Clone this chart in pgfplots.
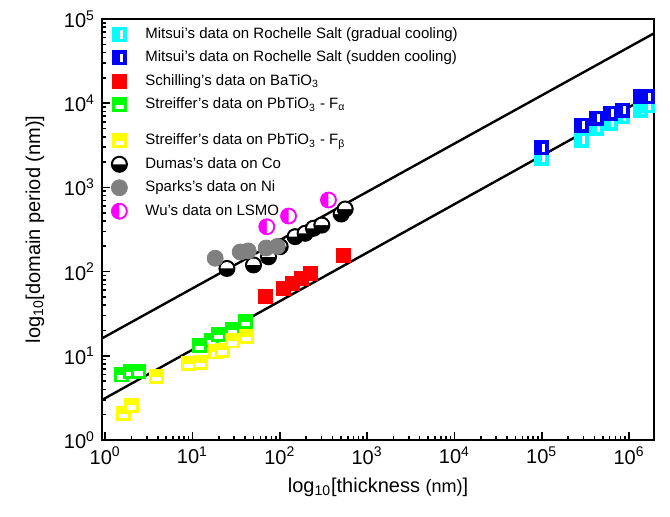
\documentclass[border=0pt]{standalone}
\usepackage{fontspec}
\setmainfont{Liberation Sans}
\usepackage{pgfplots}
\pgfplotsset{compat=1.18}

\definecolor{aqua}{RGB}{0,255,255}
\definecolor{pblue}{RGB}{0,0,255}
\definecolor{pred}{RGB}{255,0,0}
\definecolor{pgreen}{RGB}{0,255,0}
\definecolor{pyellow}{RGB}{255,255,0}
\definecolor{pgrey}{RGB}{128,128,128}
\definecolor{pmag}{RGB}{255,0,255}

% square with a white vertical slot (Mitsui)
\pgfdeclareplotmark{sqvbar}{%
  \pgfpathrectangle{\pgfqpoint{-\pgfplotmarksize}{-\pgfplotmarksize}}{\pgfqpoint{2\pgfplotmarksize}{2\pgfplotmarksize}}%
  \pgfusepathqfillstroke
  \begin{pgfscope}
  \pgfsetfillcolor{white}%
  \pgfpathrectangle{\pgfqpoint{0.05\pgfplotmarksize}{-0.6\pgfplotmarksize}}{\pgfqpoint{0.45\pgfplotmarksize}{1.2\pgfplotmarksize}}%
  \pgfusepathqfill
  \end{pgfscope}
}
% square with a white horizontal slot in the lower half (Streiffer)
\pgfdeclareplotmark{sqhbar}{%
  \pgfpathrectangle{\pgfqpoint{-\pgfplotmarksize}{-\pgfplotmarksize}}{\pgfqpoint{2\pgfplotmarksize}{2\pgfplotmarksize}}%
  \pgfusepathqfillstroke
  \begin{pgfscope}
  \pgfsetfillcolor{white}%
  \pgfpathrectangle{\pgfqpoint{-0.65\pgfplotmarksize}{-0.65\pgfplotmarksize}}{\pgfqpoint{1.3\pgfplotmarksize}{0.6\pgfplotmarksize}}%
  \pgfusepathqfill
  \end{pgfscope}
}
% circle whose upper half is white
\pgfdeclareplotmark{halfwhite}{%
  \pgfpathcircle{\pgfpointorigin}{\pgfplotmarksize}%
  \pgfusepathqfillstroke
  \begin{pgfscope}
  \pgfsetfillcolor{white}%
  \pgfpathmoveto{\pgfqpoint{0.8\pgfplotmarksize}{0pt}}%
  \pgfpatharc{0}{180}{0.8\pgfplotmarksize}%
  \pgfpathclose
  \pgfusepathqfill
  \end{pgfscope}
}

\begin{document}
\begin{tikzpicture}
\begin{axis}[
  scale only axis, width=276pt, height=210.5pt,
  xmode=log, ymode=log,
  xmin=0.92, xmax=1.93e6, ymin=1, ymax=1e5,
  axis line style={line width=1pt},
  tick align=inside, tick pos=left,
  major tick length=4pt, minor tick length=2pt,
  every tick/.style={black, line width=0.8pt},
  xtick={1,10,100,1000,10000,100000,1000000},
  xticklabels={10\textsuperscript{0},10\textsuperscript{1},10\textsuperscript{2},10\textsuperscript{3},10\textsuperscript{4},10\textsuperscript{5},10\textsuperscript{6}},
  ytick={1,10,100,1000,10000,100000},
  yticklabels={10\textsuperscript{0},10\textsuperscript{1},10\textsuperscript{2},10\textsuperscript{3},10\textsuperscript{4},10\textsuperscript{5}},
  ticklabel style={font=\fontsize{10}{12}\selectfont},
  xlabel={log\textsubscript{10}[thickness {\fontsize{9}{10}\selectfont(nm)}]},
  ylabel={log\textsubscript{10}[domain period (nm)]},
  label style={font=\fontsize{11}{13}\selectfont},
  every axis x label/.style={at={(axis description cs:0.5,-0.1116)}, anchor=center},
  every axis y label/.style={at={(axis description cs:-0.1214,0.5)}, anchor=center, rotate=90},
  legend style={draw=none, fill=none, at={(-0.011,1.0)}, anchor=north west,
    font=\fontsize{7.5}{8.5}\selectfont, row sep=0.8pt, column sep=7pt, cells={anchor=west}},
  legend cell align=left,
]
\addplot[only marks, mark=sqvbar, mark size=3.5pt, color=aqua, fill=aqua, mark options={line width=0.5pt}]
  coordinates {(1.0e5,2234) (2.89e5,3656) (4.29e5,5075) (6.09e5,5820) (8.36e5,6860) (1.34e6,8300) (1.62e6,9270)};
\addlegendentry{Mitsui's data on Rochelle Salt (gradual cooling)}
\addplot[only marks, mark=sqvbar, mark size=3.5pt, color=pblue, fill=pblue, mark options={line width=0.5pt}]
  coordinates {(1.0e5,2940) (2.89e5,5510) (4.29e5,6670) (6.09e5,7650) (8.36e5,8300) (1.34e6,11850) (1.62e6,11850)};
\addlegendentry{Mitsui's data on Rochelle Salt (sudden cooling)}
\addplot[only marks, mark=square*, mark size=3.5pt, color=pred, fill=pred]
  coordinates {(68,50.3) (109,63.9) (138,73.2) (179,84) (223,96.3) (532,157)};
\addlegendentry{Schilling's data on BaTiO\textsubscript{3}}
\addplot[only marks, mark=sqhbar, mark size=3.5pt, color=pgreen, fill=pgreen, mark options={line width=0.5pt}]
  coordinates {(1.55,5.92) (1.93,6.47) (2.41,6.6) (11.9,13.1) (16.7,15.4) (19.9,17.7) (29,20.3) (40.2,25.4)};
\addlegendentry{Streiffer's data on PbTiO\textsubscript{3} - F\textsubscript{α}}
\addlegendimage{empty legend}
\addlegendentry{}
\addplot[only marks, mark=sqhbar, mark size=3.5pt, color=pyellow, fill=pyellow, mark options={line width=0.5pt}]
  coordinates {(1.62,2.08) (2.02,2.6) (3.91,5.65) (9.0,8.15) (12.2,8.28) (18.2,11.1) (21.9,11.7) (28.5,15.0) (41.2,16.9)};
\addlegendentry{Streiffer's data on PbTiO\textsubscript{3} - F\textsubscript{β}}
\addplot[only marks, mark=halfwhite, mark size=4pt, color=black, fill=black, mark options={line width=0.5pt}]
  coordinates {(24.8,109) (50,120) (74.3,150) (101,198) (150,260) (195,285) (243,327) (303,357) (505,483) (561,554)};
\addlegendentry{Dumas's data on Co}
\addplot[only marks, mark=*, mark size=4pt, color=pgrey, fill=pgrey]
  coordinates {(18.2,144) (35.2,171) (43.5,176) (69.8,191) (93.4,199)};
\addlegendentry{Sparks's data on Ni}
\addplot[only marks, mark=halfwhite, mark size=4pt, color=pmag, fill=pmag, mark options={line width=0.4pt, rotate=-90}]
  coordinates {(71,341) (126,457) (361,708)};
\addlegendentry{Wu's data on LSMO}
\addplot[black, line width=1.2pt, forget plot] coordinates {(0.92,16.1) (1.93e6,67600)};
\addplot[black, line width=1.2pt, forget plot] coordinates {(0.92,2.99) (1.93e6,13100)};
\end{axis}
\pgfresetboundingbox
\path (current axis.south west) ++(-51pt,-38pt) rectangle ++(335pt,258pt);
\end{tikzpicture}
\end{document}
